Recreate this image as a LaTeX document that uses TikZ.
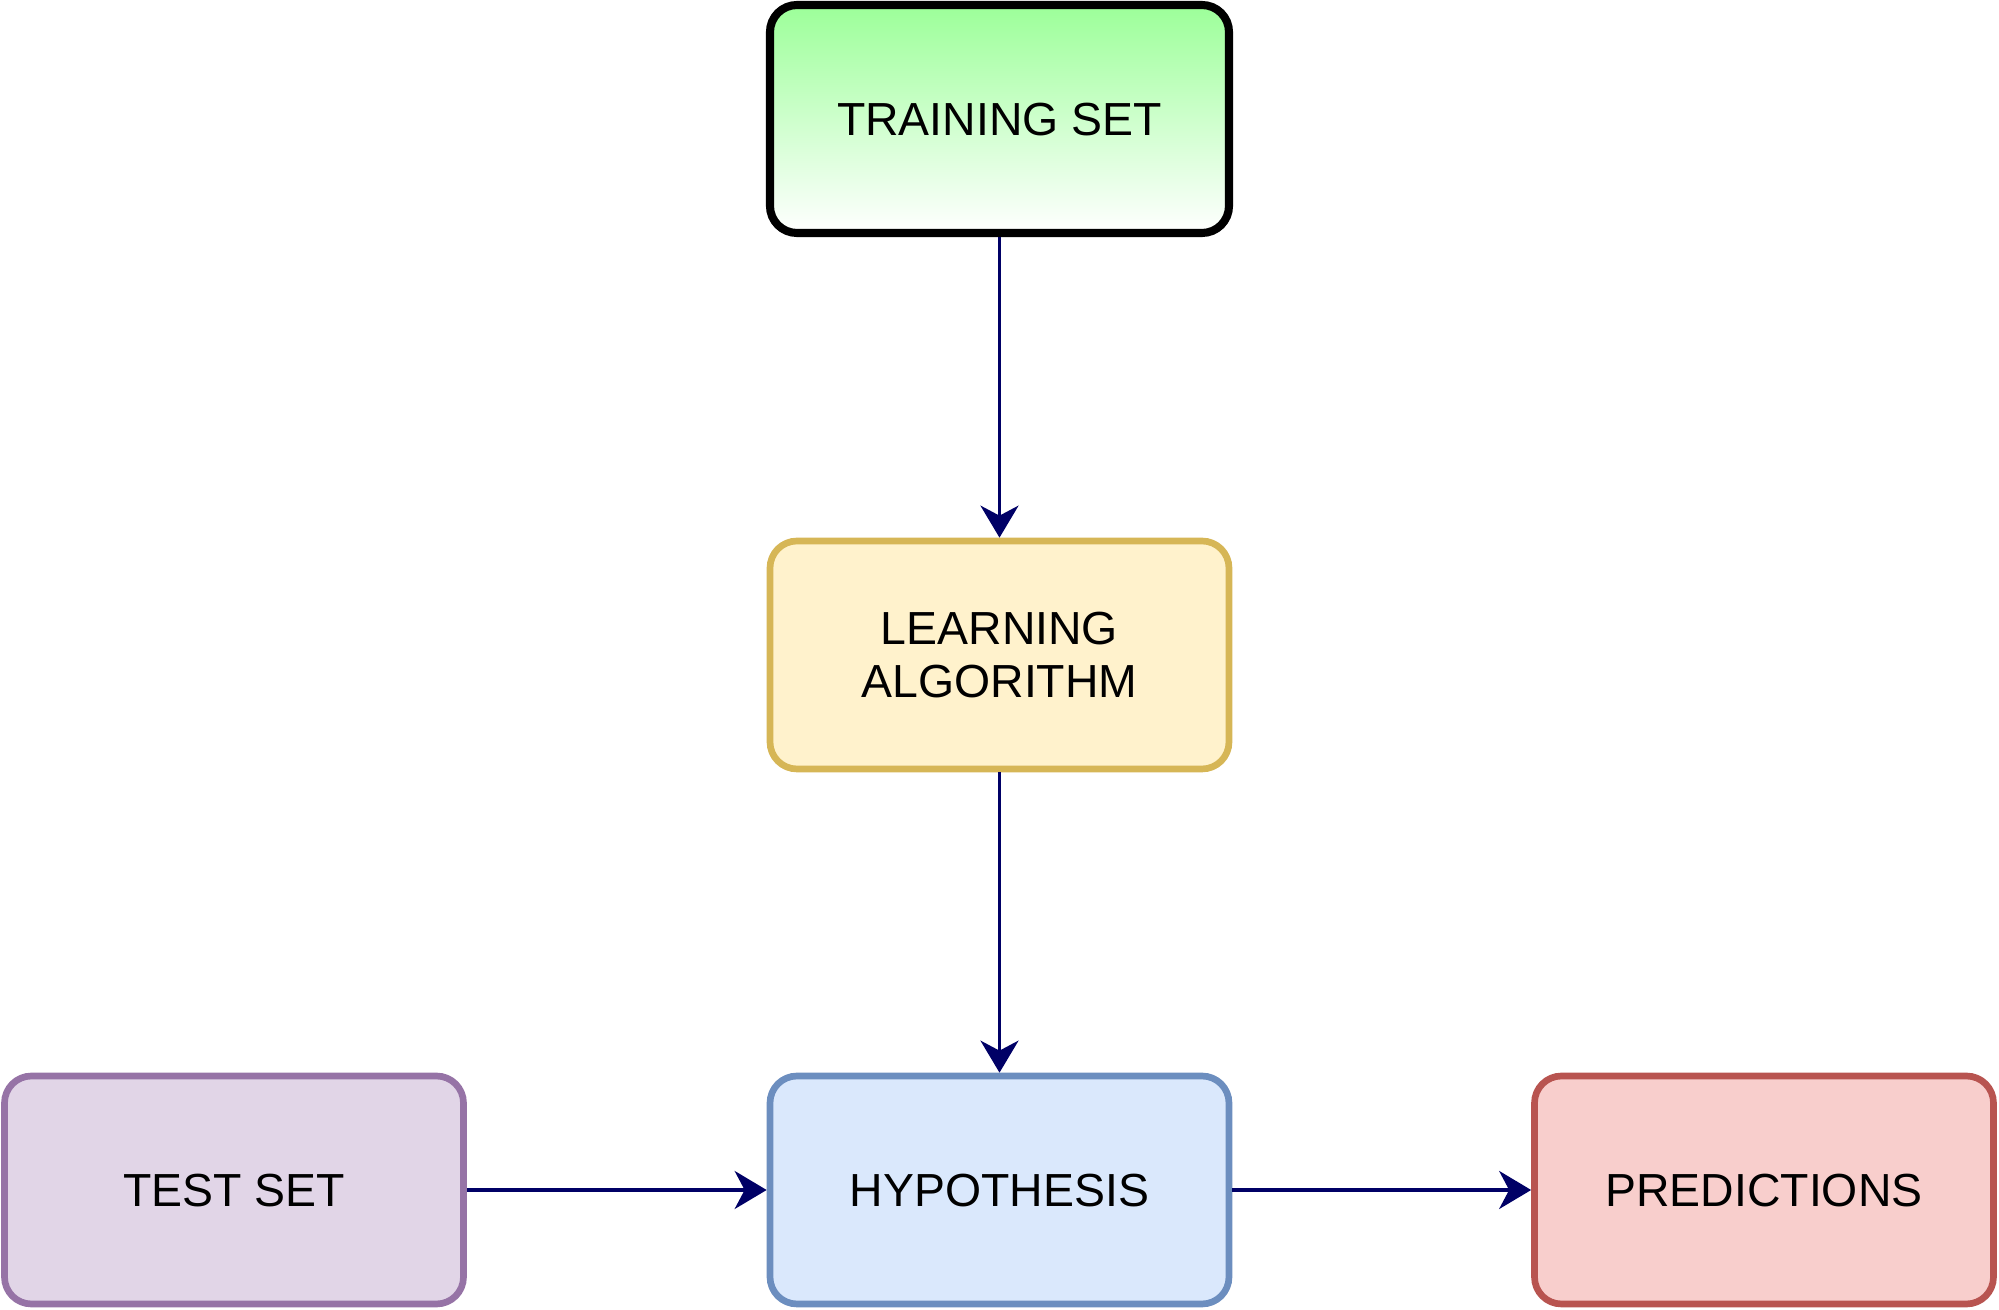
\documentclass[tikz,border=0pt]{standalone}
\usepackage{fontspec}
\setmainfont{Liberation Sans}
\usepackage{tikz}
\usetikzlibrary{positioning}
\usetikzlibrary{arrows.meta}
\usepackage{xcolor}

\definecolor{trainTop}{HTML}{9CFF99}
\definecolor{learnFill}{HTML}{FFF2CC}
\definecolor{learnLine}{HTML}{D6B656}
\definecolor{testFill}{HTML}{E1D5E7}
\definecolor{testLine}{HTML}{9673A6}
\definecolor{hypFill}{HTML}{DAE8FC}
\definecolor{hypLine}{HTML}{6C8EBF}
\definecolor{predFill}{HTML}{F8CECC}
\definecolor{predLine}{HTML}{B85450}
\definecolor{arrowBlue}{HTML}{000066}

\tikzset{
    box/.style={draw, rounded corners=0.27cm, line width=1.9pt,
        minimum width=4.59cm, minimum height=2.28cm, align=center,
        text depth=0pt, font=\fontsize{13.2}{15.2}\selectfont},
    flow/.style={draw=arrowBlue, line width=0.95pt,
        -{Stealth[length=0.32cm, width=0.38cm, inset=0.1cm]}}
}

\begin{document}
\begin{tikzpicture}
        \useasboundingbox (0,0) rectangle (19.99,13.10);
        \node[box, line width=2.3pt, top color=trainTop, bottom color=white] (train) at (9.995,11.91) {TRAINING SET};
        \node[box, draw=learnLine, fill=learnFill] (learn) at (9.995,6.55) {LEARNING\\ALGORITHM};
        \foreach \name/\x/\txt/\c in {test/2.34/TEST SET/test, hyp/9.995/HYPOTHESIS/hyp, pred/17.64/PREDICTIONS/pred}
        {
            \node[box, draw=\c Line, fill=\c Fill] (\name) at (\x,1.20) {\txt};
        }
        \draw[flow] (train) -- (learn);
        \draw[flow] (learn) -- (hyp);
        \draw[flow] (test) -- (hyp);
        \draw[flow] (hyp) -- (pred);
    \end{tikzpicture}
\end{document}
